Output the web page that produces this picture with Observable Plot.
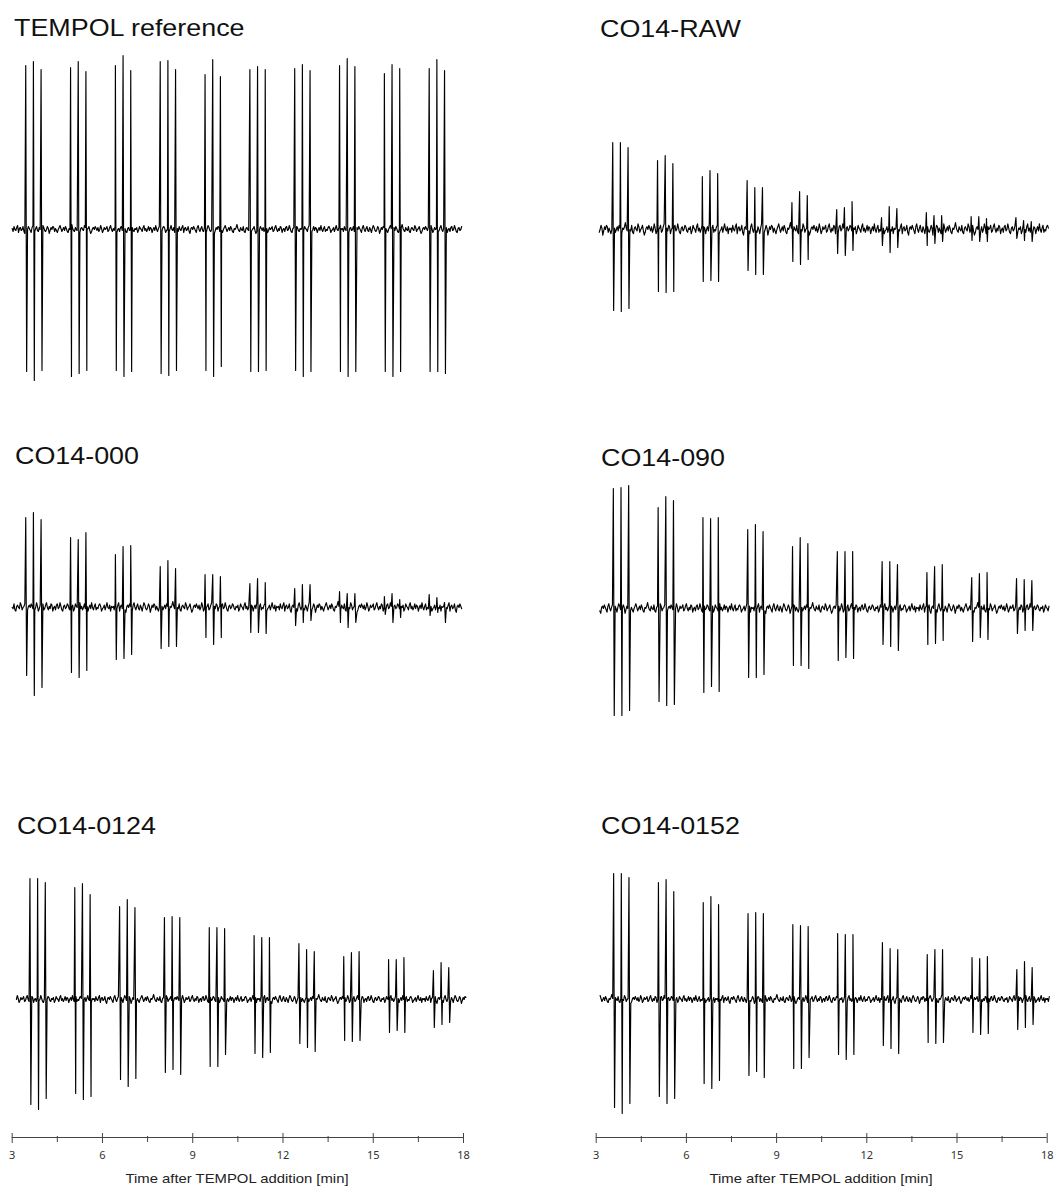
<!DOCTYPE html>
<html><head><meta charset="utf-8">
<script src="https://cdn.jsdelivr.net/npm/d3@7"></script>
<script src="https://cdn.jsdelivr.net/npm/@observablehq/plot@0.6"></script>
<style>
body{margin:0;background:#fff;}
#root{position:relative;width:1054px;height:1187px;overflow:hidden;font-family:Arial,"Liberation Sans",sans-serif;background:#fff;}
.title{position:absolute;font-size:24px;line-height:24px;color:#111;transform:scaleX(1.12);transform-origin:0 0;white-space:nowrap;}
.pane{position:absolute;width:527px;}
.xlabel{position:absolute;font-size:13.5px;line-height:13.5px;color:#222;white-space:nowrap;transform:translateX(-50%) scaleX(1.1);}
</style></head><body><div id="root"></div>
<script>
// ---- data ----
const titles = ["TEMPOL reference", "CO14-RAW", "CO14-000", "CO14-090", "CO14-0124", "CO14-0152"];
// centre time (min) of each of the 10 triplet scans
const groupTimes = [3.72, 5.21, 6.70, 8.19, 9.68, 11.17, 12.66, 14.15, 15.64, 17.13];
// offset (min) of the three hyperfine lines inside a triplet
const lineOffsets = [-0.255, 0, 0.255];
// small time shift of each trace
const panelShift = [0, 0.10, 0, 0.12, 0.14, 0.13];
const traceStart = 3.0, traceEnd = 17.95;
// positive / negative peak heights (a.u.) of each of the 30 lines
const upTEMPOL   = [164,168,160, 162,168,158, 164,174,159, 168,169,160, 155,170,153, 160,163,160, 161,165,159, 164,171,163, 156,165,161, 161,170,159];
const downTEMPOL = [142,151,141, 147,144,141, 141,147,142, 144,146,141, 141,147,137, 142,142,141, 141,147,142, 142,147,142, 142,147,142, 142,142,144];
const upRAW   = [87,87,82, 69,74,66, 53,59,56, 49,42,42, 27,38,34, 20,22,28, 12,23,21, 17,14,14, 13,13,11, 12,9,8];
const downRAW = [81,82,79, 62,63,62, 52,51,52, 41,45,45, 32,35,30, 24,26,21, 16,23,18, 16,14,12, 11,12,12, 9,11,12];
const up000   = [90,95,88, 70,68,75, 53,61,62, 41,47,39, 33,33,31, 24,29,25, 19,23,23, 16,14,14, 11,14,8, 13,10,5];
const down000 = [68,88,80, 65,70,63, 52,51,47, 41,39,39, 30,37,30, 25,25,26, 18,15,13, 15,20,15, 7,15,10, 8,5,15];
const up090   = [120,121,123, 101,112,108, 91,90,91, 79,84,77, 62,71,65, 57,57,57, 47,47,44, 36,42,44, 31,35,36, 30,29,28];
const down090 = [107,107,102, 93,97,96, 84,78,83, 69,69,66, 57,57,60, 52,49,50, 36,38,42, 36,35,32, 33,29,31, 25,22,22];
const up0124   = [121,121,117, 112,116,105, 93,100,92, 82,83,82, 72,72,71, 64,62,62, 56,50,48, 43,47,48, 40,40,42, 29,37,32];
const down0124 = [105,110,99, 94,100,97, 80,87,79, 73,70,75, 67,67,55, 54,58,53, 44,48,52, 41,42,41, 33,31,33, 28,25,23];
const up0152   = [126,126,122, 117,120,108, 97,103,95, 86,87,86, 75,74,73, 66,65,65, 57,51,50, 45,50,50, 42,41,43, 30,38,32];
const down0152 = [108,114,104, 97,104,99, 84,89,81, 76,72,78, 69,69,58, 55,60,55, 46,49,54, 43,44,43, 33,35,34, 30,28,25];
// baseline noise (a.u.)
const noise = [1,-2,3,0,-1,2,4,-3,1,2,-1,0,3,-2,-4,1,2,0,3,1,-1,-3,2,4,0,-2,1,3,-1,-2,2,0,-3,1,4,2,-1,-2,0,3,1,-4,-1,2,0,3,2,-2,1,-1,-3,0,2,4,1,-2,0,2,-1,3,1,-2,-3,1,0,2,5,1,-1,-2,2,0,-1,3,-2,-3,1,2,0,-1,4,2,-2,0,1,3,-1,-4,-2,1,2,0,3,1,-1,2,-2,0,4,1,-3,-1,2,0,1,3,-2,-1,2,4,0,-2,1,-1,3,2,-3,0,1,-2,2,3,-1,0,4,1,-2,-3,1,2,-1,0,3,2,-1,-2,1,0,2,-3,-1,3,1,0,-2,2,4,-1,1,-2,0,3,-1,2,1,-3,0,2,-1,4,0,-2,1,3,-2,0,-1,2,3,1,-3,-1,0,2,-2,1,4,0,-1,2,-3,1,0];
const noiseLevel = [1.0, 1.4, 1.2, 1.2, 1.0, 1.0];
const noiseOffset = [0, 37, 71, 13, 97, 53];
const majorTicks = [3, 6, 9, 12, 15, 18];
const minorTicks = [4.5, 7.5, 10.5, 13.5, 16.5];
const axisTitle = "Time after TEMPOL addition [min]";

const ups = [upTEMPOL, upRAW, up000, up090, up0124, up0152];
const downs = [downTEMPOL, downRAW, down000, down090, down0124, down0152];

// ---- layout ----
const root = document.getElementById("root");
const colMargins = [{ml: 11.7, mr: 64, left: 0}, {ml: 68.7, mr: 7.3, left: 527}];
const paneTops = [29, 29, 407, 408, 799, 799];
const titlePos = [[14, 16.4], [599.5, 17.4], [15.3, 443.7], [601, 446.4], [17, 814], [601.3, 814]];
const step = 0.03;

function buildTrace(p) {
  const shift = panelShift[p];
  const lines = [];
  groupTimes.forEach((g, gi) => lineOffsets.forEach((o, li) => {
    const k = gi * 3 + li;
    lines.push({t: g + shift + o, up: ups[p][k], down: downs[p][k]});
  }));
  const pts = [];
  const t0 = traceStart + shift, t1 = traceEnd + shift;
  const n = Math.round((t1 - t0) / step);
  for (let i = 0; i <= n; i++) {
    const t = t0 + i * step;
    if (lines.some(l => Math.abs(t - l.t) < 0.025)) continue;
    pts.push({t, v: noise[(i + noiseOffset[p]) % noise.length] * noiseLevel[p]});
  }
  lines.forEach(l => {
    pts.push({t: l.t - 0.015, v: l.up});
    pts.push({t: l.t + 0.015, v: -l.down});
  });
  pts.sort((a, b) => a.t - b.t);
  return pts;
}

for (let p = 0; p < 6; p++) {
  const col = colMargins[p % 2];
  const chart = Plot.plot({
    width: 527, height: 400,
    marginLeft: col.ml, marginRight: col.mr, marginTop: 0, marginBottom: 0,
    x: {domain: [3, 18], axis: null},
    y: {domain: [-200, 200], axis: null},
    style: {background: "transparent", overflow: "visible"},
    marks: [Plot.line(buildTrace(p), {x: "t", y: "v", stroke: "#000", strokeWidth: 1.15})]
  });
  const div = document.createElement("div");
  div.className = "pane";
  div.style.left = col.left + "px";
  div.style.top = paneTops[p] + "px";
  div.appendChild(chart);
  root.appendChild(div);

  const t = document.createElement("div");
  t.className = "title";
  t.textContent = titles[p];
  t.style.left = titlePos[p][0] + "px";
  t.style.top = titlePos[p][1] + "px";
  root.appendChild(t);
}

// bottom axes
for (let c = 0; c < 2; c++) {
  const col = colMargins[c];
  const ax = Plot.plot({
    width: 527, height: 60,
    marginLeft: col.ml, marginRight: col.mr, marginTop: 10, marginBottom: 46,
    x: {domain: [3, 18]},
    y: {domain: [0, 1], axis: null},
    style: {background: "transparent", overflow: "visible"},
    marks: [
      Plot.ruleY([0], {stroke: "#444"}),
      Plot.ruleX(majorTicks, {y1: -1.5, y2: 1, stroke: "#444"}),
      Plot.ruleX(minorTicks, {y1: -1.25, y2: 0.25, stroke: "#444"}),
      Plot.axisX({ticks: majorTicks, tickSize: 0, tickPadding: 13.4, fontSize: 11, color: "#333", label: null})
    ]
  });
  const div = document.createElement("div");
  div.className = "pane";
  div.style.left = col.left + "px";
  div.style.top = "1122.5px";
  div.appendChild(ax);
  root.appendChild(div);

  const lab = document.createElement("div");
  lab.className = "xlabel";
  lab.textContent = axisTitle;
  lab.style.left = (col.left + (col.ml + 527 - col.mr) / 2) + "px";
  lab.style.top = "1171.9px";
  root.appendChild(lab);
}
</script></body></html>
